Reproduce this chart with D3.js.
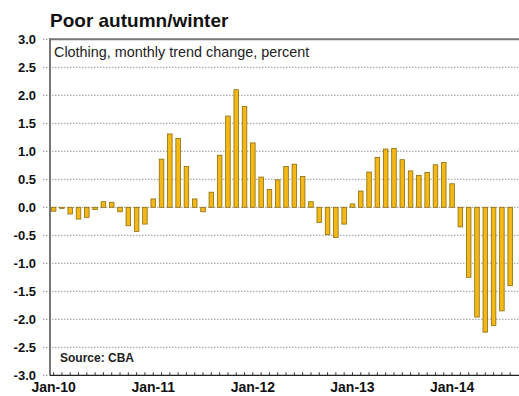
<!DOCTYPE html>
<html><head><meta charset="utf-8">
<script src="https://cdn.jsdelivr.net/npm/d3@7"></script>
<style>body{margin:0;background:#fff}svg{display:block}text{font-family:"Liberation Sans",Arial,sans-serif}</style>
</head><body>
<script>
const years = ["10","11","12","13","14"];
const months = ["Jan","Feb","Mar","Apr","May","Jun","Jul","Aug","Sep","Oct","Nov","Dec"];
const categories = [];
years.forEach(y => months.forEach(m => categories.push(m + "-" + y)));
categories.splice(56);
const values = [
  -0.07,-0.02,-0.12,-0.21,-0.18,-0.04,0.10,0.09,-0.08,-0.33,-0.43,-0.30,
  0.15,0.86,1.31,1.23,0.73,0.15,-0.08,0.27,0.93,1.63,2.10,1.80,
  1.15,0.54,0.32,0.49,0.73,0.77,0.55,0.10,-0.27,-0.49,-0.54,-0.30,
  0.06,0.29,0.63,0.89,1.04,1.05,0.85,0.65,0.57,0.62,0.76,0.80,
  0.42,-0.35,-1.25,-1.96,-2.23,-2.11,-1.85,-1.40
];
const yTicks = [3.0,2.5,2.0,1.5,1.0,0.5,0.0,-0.5,-1.0,-1.5,-2.0,-2.5,-3.0];
const xLabels = ["Jan-10","Jan-11","Jan-12","Jan-13","Jan-14"];

(function(){
const W = 519, H = 396;
const svg = d3.select("body").append("svg").attr("width", W).attr("height", H);
const pL = 50, pT = 39.3, pB = 375.3;
const y = d3.scaleLinear().domain([-3, 3]).range([pB, pT]);
const x = d3.scaleBand().domain(categories).range([49.5, 514.3]).paddingInner(0.45).paddingOuter(0.22);

// gridlines
svg.append("g").selectAll("line").data(yTicks).join("line")
  .attr("x1", 43).attr("x2", d => (d === 3 || d === -3) ? pL : W).attr("y1", d => y(d)).attr("y2", d => y(d))
  .attr("stroke", "#9a9a9a").attr("stroke-width", 1).attr("stroke-dasharray", "1.5,1.5");

// bars
svg.append("g").selectAll("rect").data(values).join("rect")
  .attr("x", (d, i) => x(categories[i]))
  .attr("width", x.bandwidth())
  .attr("y", d => y(Math.max(0, d)))
  .attr("height", d => Math.abs(y(d) - y(0)))
  .attr("fill", "#F4B815").attr("stroke", "#8c6d12").attr("stroke-width", 0.8);

// frame
svg.append("line").attr("x1", pL).attr("x2", W).attr("y1", pT).attr("y2", pT)
  .attr("stroke", "#777").attr("stroke-width", 2);
svg.append("line").attr("x1", pL).attr("x2", pL).attr("y1", pT - 1).attr("y2", pB)
  .attr("stroke", "#777").attr("stroke-width", 2);
// x axis
const xAxis = d3.axisBottom(x).tickSize(-3).tickSizeOuter(0).tickFormat("");
const gx = svg.append("g").attr("transform", `translate(0,${pB})`).call(xAxis);
gx.select(".domain").attr("stroke", "#222").attr("stroke-width", 1.3).attr("d", `M${pL},0H${W}`);
gx.selectAll(".tick line").attr("stroke", "#333");

// y labels
svg.append("g").selectAll("text").data(yTicks).join("text")
  .attr("x", 36).attr("y", d => y(d)).attr("dy", "0.36em")
  .attr("text-anchor", "end").attr("font-weight", "bold").attr("font-size", 13).attr("fill", "#111")
  .text(d => d.toFixed(1));

// x labels
svg.append("g").selectAll("text").data(xLabels).join("text")
  .attr("x", d => x(d) + x.bandwidth() / 2).attr("y", 392)
  .attr("text-anchor", "middle").attr("font-weight", "bold").attr("font-size", 14).attr("fill", "#111")
  .text(d => d);

// titles
svg.append("text").attr("x", 50).attr("y", 27).attr("font-weight", "bold").attr("font-size", 19).attr("fill", "#111")
  .text("Poor autumn/winter");
svg.append("text").attr("x", 54).attr("y", 57).attr("font-size", 14.4).attr("fill", "#222")
  .text("Clothing, monthly trend change, percent");
svg.append("text").attr("x", 60).attr("y", 362).attr("font-weight", "bold").attr("font-size", 12).attr("fill", "#222")
  .text("Source: CBA");
})();
</script>
</body></html>
